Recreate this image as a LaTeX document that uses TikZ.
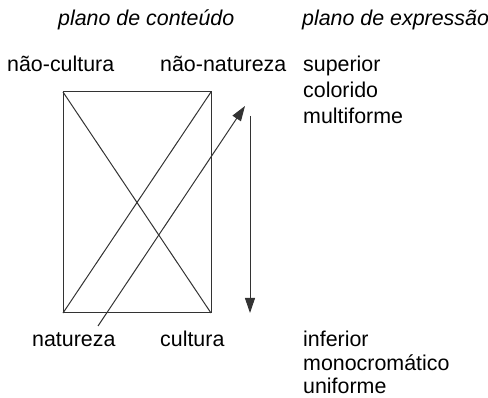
\documentclass[tikz,border=0pt]{standalone}
\usepackage{fontspec}
\setmainfont{Liberation Sans}
\usetikzlibrary{arrows.meta}
\begin{document}
\begin{tikzpicture}[x=1pt,y=-1pt,
  lbl/.style={anchor=base west,inner sep=0pt,font=\fontsize{21.4}{26}\selectfont},
  ttl/.style={lbl,font=\fontsize{21.4}{26}\selectfont\itshape},
  ln/.style={line width=1pt,draw=black!80},
  arr/.style={ln,-{Triangle[length=15pt,width=10pt]}}]
\useasboundingbox (0,0) rectangle (488,398);
\node[ttl] (t1) at (58,26) {plano de conteúdo};
\node[ttl] (t2) at (302,26) {plano de expressão};
\node[lbl] (nc) at (7,72) {não-cultura};
\node[lbl] (nn) at (160,72) {não-natureza};
\node[lbl] (s1) at (303,72) {superior};
\node[lbl] (s2) at (303,98) {colorido};
\node[lbl] (s3) at (303,124) {multiforme};
\node[lbl] (na) at (32,347) {natureza};
\node[lbl] (cu) at (160,347) {cultura};
\node[lbl] (i1) at (303,347) {inferior};
\node[lbl] (i2) at (303,371) {monocromático};
\node[lbl] (i3) at (303,394) {uniforme};
\coordinate (A) at (63,92);
\coordinate (B) at (211,92);
\coordinate (C) at (211,313);
\coordinate (D) at (63,313);
\draw[ln] (A) -- (B) -- (C) -- (D) -- cycle;
\draw[ln] (A) -- (C);
\draw[ln] (B) -- (D);
\coordinate (p0) at (98,326);
\coordinate (p1) at (245,106);
\draw[arr] (p0) -- (p1);
\coordinate (q0) at (250,116);
\coordinate (q1) at (250,313);
\draw[arr] (q0) -- (q1);
\end{tikzpicture}
\end{document}
